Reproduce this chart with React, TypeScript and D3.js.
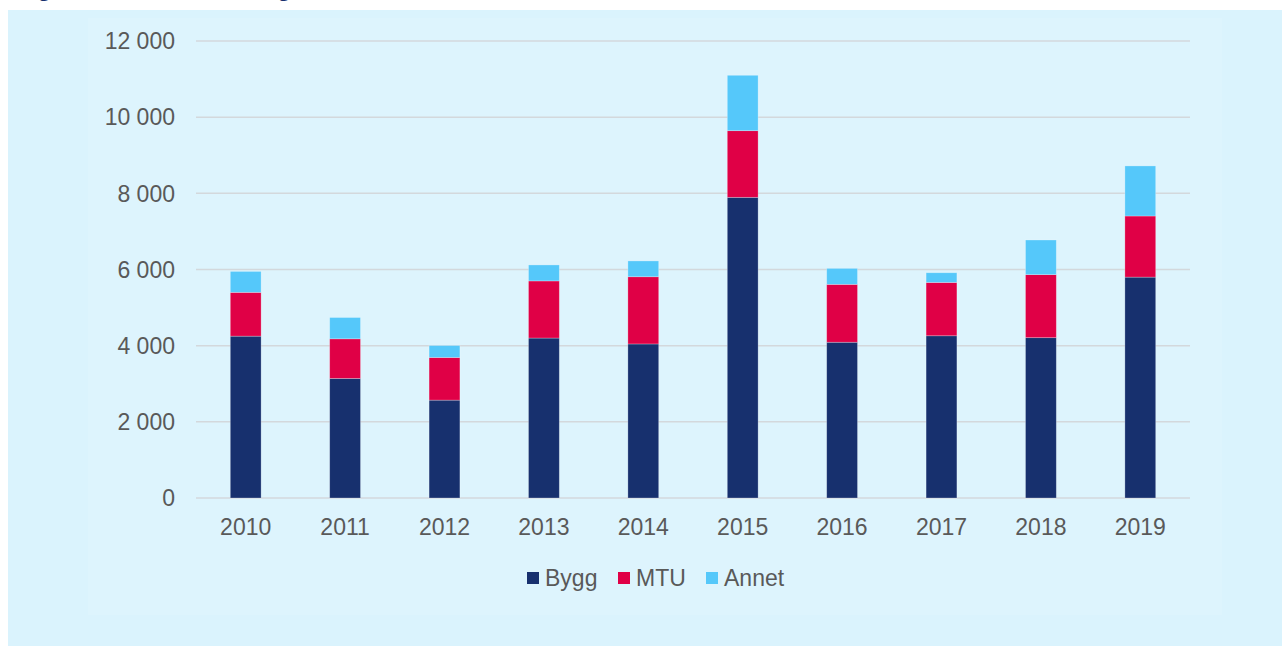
import React from "react";
import * as d3 from "d3";

const years = ["2010", "2011", "2012", "2013", "2014", "2015", "2016", "2017", "2018", "2019"];
const bygg = [4250, 3140, 2570, 4200, 4045, 7895, 4090, 4260, 4210, 5800];
const mtu = [1150, 1040, 1120, 1500, 1765, 1750, 1520, 1400, 1655, 1605];
const annet = [550, 560, 315, 420, 415, 1455, 420, 255, 910, 1315];
const seriesNames = ["Bygg", "MTU", "Annet"];
const seriesColors = ["#17306e", "#e00046", "#55c8fa"];
const yTicks = [0, 2000, 4000, 6000, 8000, 10000, 12000];

const W = 1282;
const H = 646;
const plot = { left: 196, right: 1190, top: 41, bottom: 498 };

export default function App() {
  const x = d3.scaleBand<string>().domain(years).range([plot.left, plot.right]).paddingInner(0.69).paddingOuter(0.345);
  const y = d3.scaleLinear().domain([0, 12000]).range([plot.bottom, plot.top]);

  const table = years.map((yr, i) => ({ year: yr, Bygg: bygg[i], MTU: mtu[i], Annet: annet[i] }));
  const stack = d3.stack<any>().keys(seriesNames)(table);
  const fmt = (v: number) => d3.format(",")(v).replace(/,/g, " ");

  const legendX = [527, 618, 706];

  return (
    <svg width={W} height={H} style={{ position: "absolute", left: 0, top: 0, display: "block" }}
      fontFamily="'Liberation Sans', Arial, sans-serif">
      <rect x={0} y={0} width={W} height={H} fill="#ffffff" />
      <text y={-4} fill="#17306e" fontWeight="bold" fontSize={24}>
        <tspan x={18} textLength={259} lengthAdjust="spacing">Figur 3: Totale investerin</tspan>
        <tspan x={277} textLength={520} lengthAdjust="spacing">ger i sektoren etter formål 2010–2019</tspan>
        <tspan x={797}>, mill. kroner</tspan>
      </text>
      <rect x={8} y={10} width={W - 8} height={H - 10} fill="#daf3fd" />
      <rect x={88} y={18} width={1134} height={597} fill="#ddf4fd" />
      {yTicks.map((t) => (
        <g key={t}>
          <line x1={plot.left} x2={plot.right} y1={y(t)} y2={y(t)} stroke="#d3d8dc" strokeWidth={1.5} />
          <text x={175} y={y(t)} dy="0.36em" textAnchor="end" fontSize={23} fill="#595959">{fmt(t)}</text>
        </g>
      ))}
      {stack.map((layer, si) => (
        <g key={seriesNames[si]}>
          {layer.map((d, i) => (
            <rect key={years[i]} x={x(years[i])} width={x.bandwidth()} y={y(d[1])} height={y(d[0]) - y(d[1])}
              fill={seriesColors[si]} stroke="#ffffff" strokeOpacity={0.35} strokeWidth={0.75} />
          ))}
        </g>
      ))}
      {years.map((yr) => (
        <text key={yr} x={(x(yr) as number) + x.bandwidth() / 2} y={535} textAnchor="middle" fontSize={23} fill="#595959">{yr}</text>
      ))}
      {seriesNames.map((n, i) => (
        <g key={n}>
          <rect x={legendX[i]} y={572} width={12} height={12} fill={seriesColors[i]} />
          <text x={legendX[i] + 18} y={586} fontSize={23} fill="#595959">{n}</text>
        </g>
      ))}
    </svg>
  );
}
